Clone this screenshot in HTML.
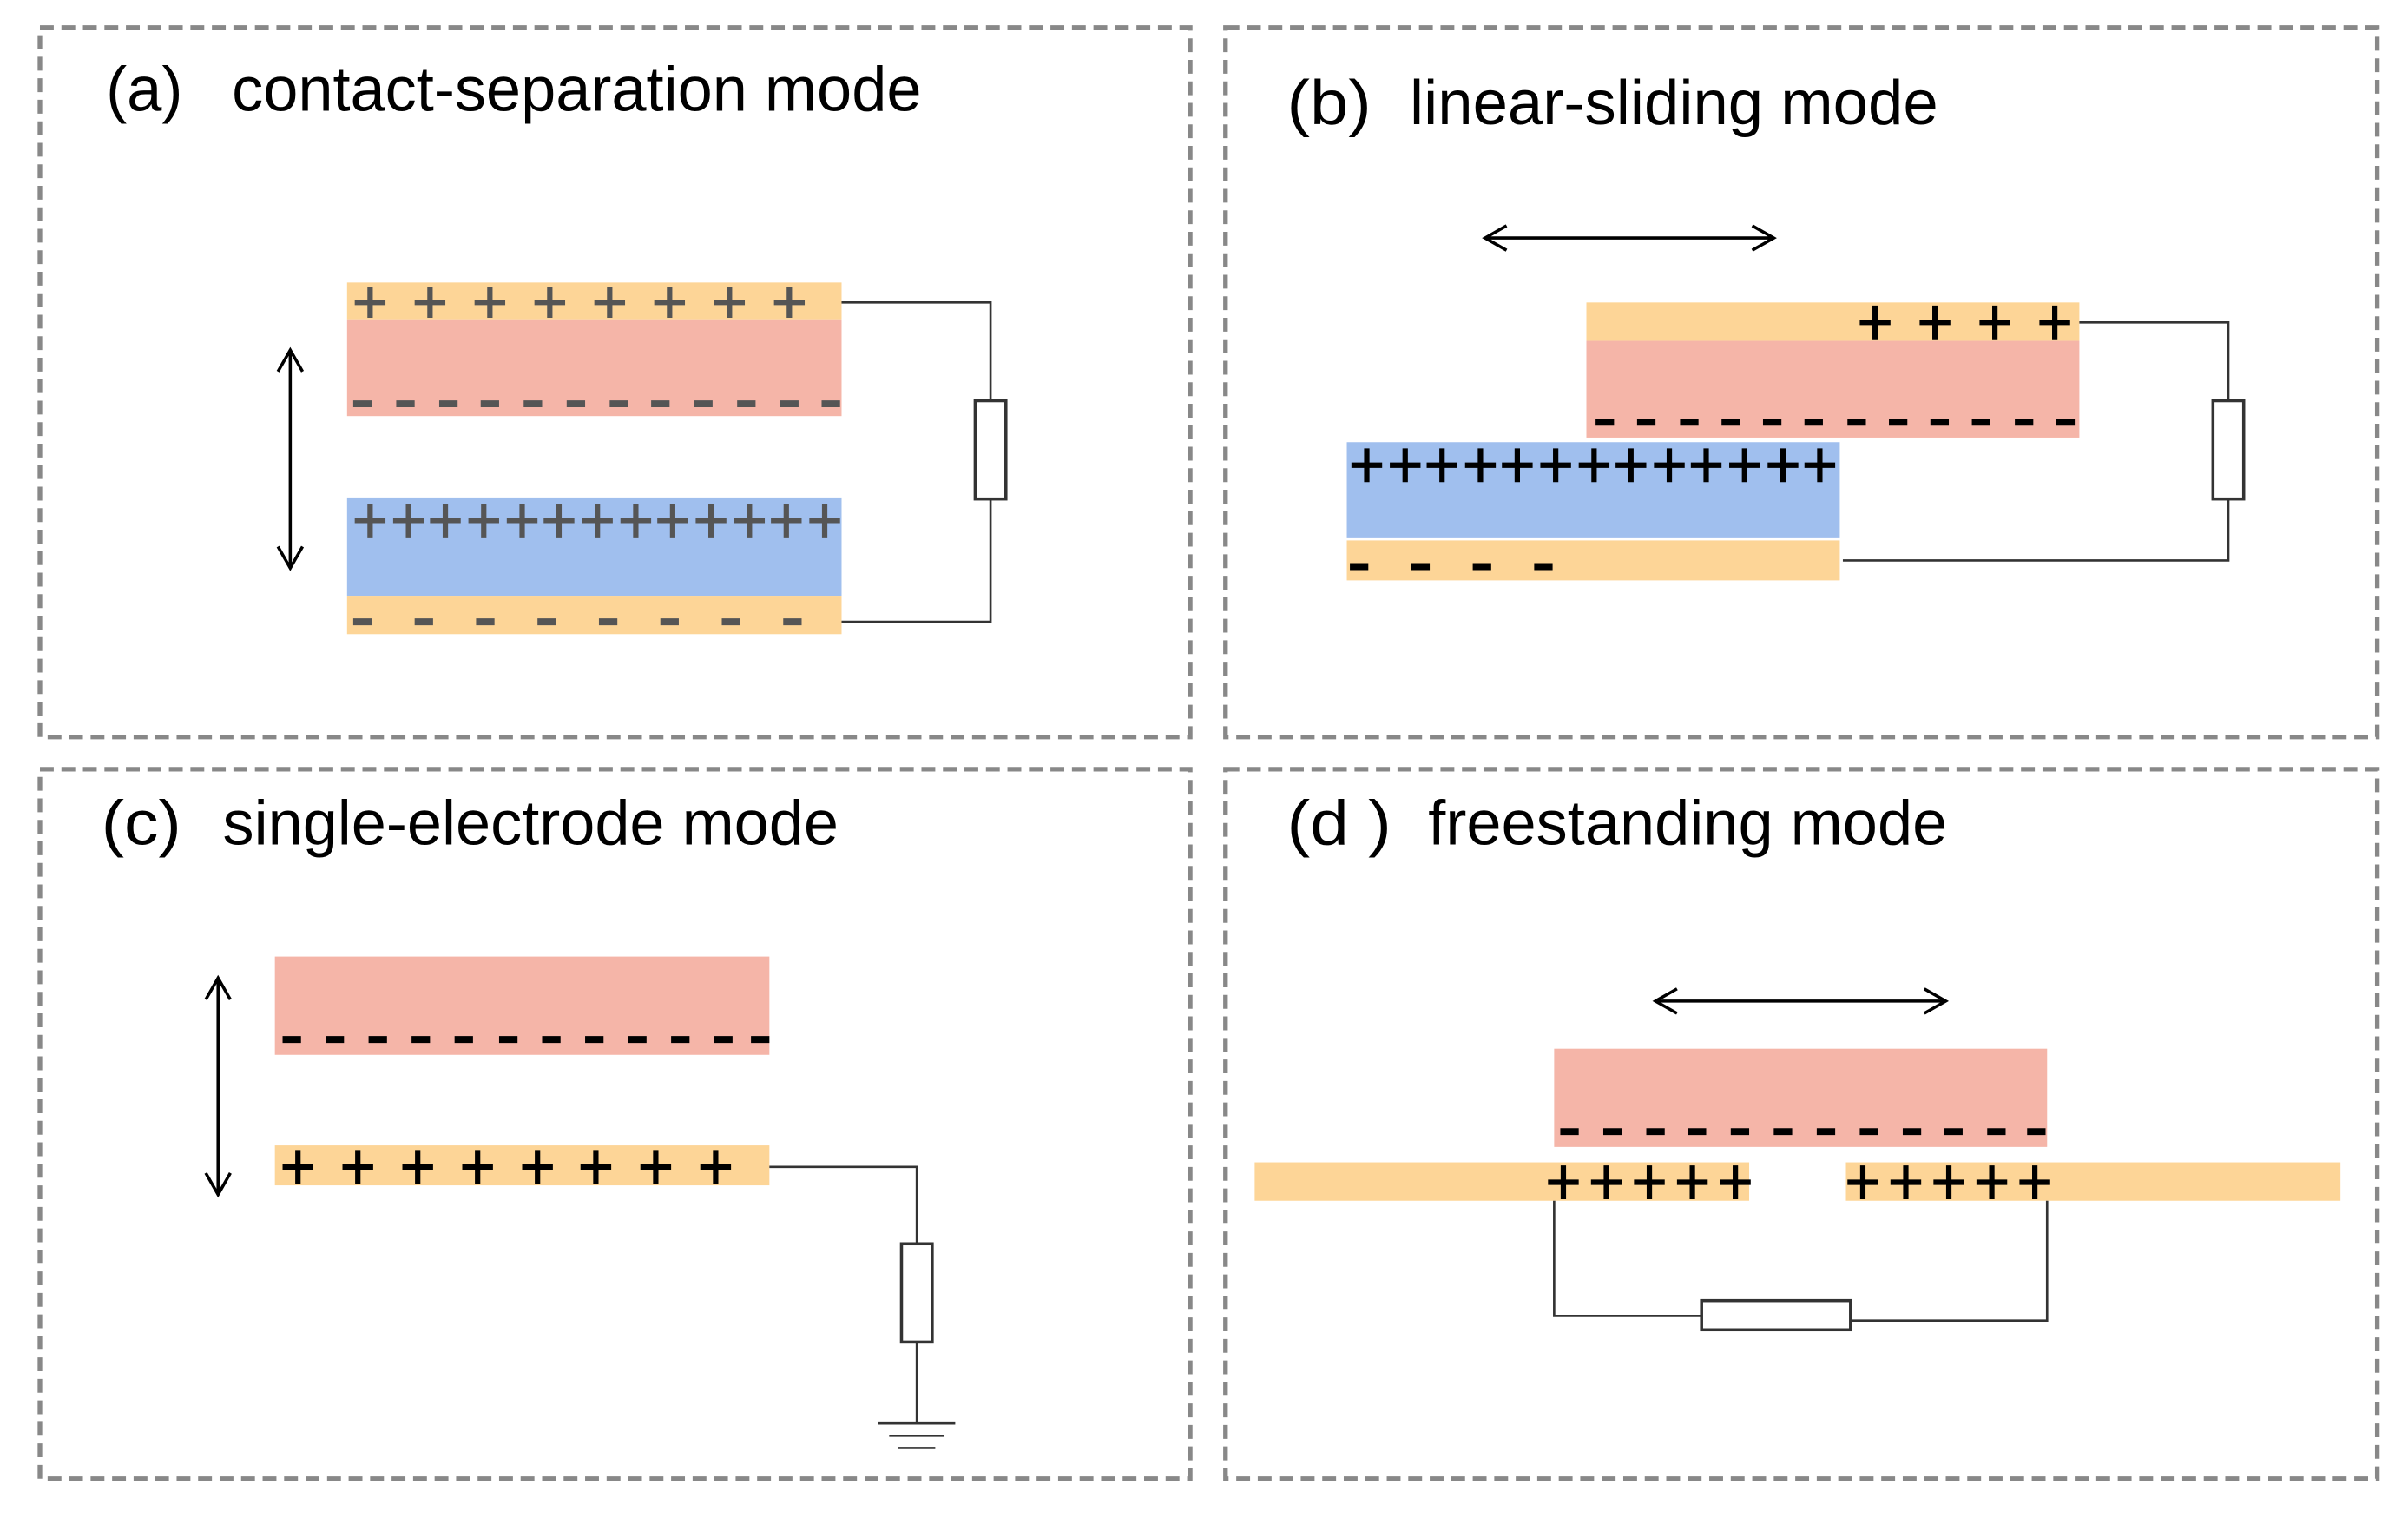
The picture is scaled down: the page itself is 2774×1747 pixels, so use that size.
<!DOCTYPE html>
<html><head><meta charset="utf-8"><style>
html,body{margin:0;padding:0;background:#fff;}
svg{display:block;}
</style></head><body>
<svg width="2774" height="1747" viewBox="0 0 1568 988" preserveAspectRatio="none" xmlns="http://www.w3.org/2000/svg">
<rect width="1568" height="988" fill="#fff"/>
<g fill="none" stroke="#888" stroke-width="3" stroke-dasharray="9,5">
<rect x="26" y="18" width="749" height="462"/>
<rect x="798" y="18" width="750" height="462"/>
<rect x="26" y="501" width="749" height="462"/>
<rect x="798" y="501" width="750" height="462"/>
</g>
<g font-family="Liberation Sans, Arial, sans-serif" font-size="41" fill="#000">
<text x="69" y="72" textLength="50" lengthAdjust="spacingAndGlyphs">(a)</text>
<text x="151" y="72" textLength="449" lengthAdjust="spacingAndGlyphs">contact-separation mode</text>
<text x="838" y="81" textLength="55" lengthAdjust="spacingAndGlyphs">(b)</text>
<text x="918" y="81" textLength="344" lengthAdjust="spacingAndGlyphs">linear-sliding mode</text>
<text x="66" y="550" textLength="52" lengthAdjust="spacingAndGlyphs">(c)</text>
<text x="145" y="550" textLength="401" lengthAdjust="spacingAndGlyphs">single-electrode mode</text>
<text x="838" y="550" textLength="68" lengthAdjust="spacingAndGlyphs">(d )</text>
<text x="930" y="550" textLength="338" lengthAdjust="spacingAndGlyphs">freestanding mode</text>
</g>
<!-- Panel a -->
<rect x="226" y="184" width="322" height="24" fill="#fdd597"/>
<rect x="226" y="208" width="322" height="63" fill="#f5b5a8"/>
<rect x="226" y="324" width="322" height="64" fill="#a0bfee"/>
<rect x="226" y="388" width="322" height="25" fill="#fdd597"/>
<g stroke="#555" stroke-width="3.5" fill="none">
<path d="M231 197h20M241 187v20 M270 197h20M280 187v20 M309 197h20M319 187v20 M348 197h20M358 187v20 M387 197h20M397 187v20 M426 197h20M436 187v20 M465 197h20M475 187v20 M504 197h20M514 187v20"/>
<path d="M231 339h20M241 328v22 M256 339h20M266 328v22 M280 339h20M290 328v22 M305 339h20M315 328v22 M330 339h20M340 328v22 M354 339h20M364 328v22 M379 339h20M389 328v22 M404 339h20M414 328v22 M428 339h20M438 328v22 M453 339h20M463 328v22 M478 339h20M488 328v22 M502 339h20M512 328v22 M527 339h20M537 328v22"/>
<path stroke-width="4.5" d="M230 263h12M258 263h12M286 263h12M313 263h12M341 263h12M369 263h12M397 263h12M424 263h12M452 263h12M480 263h12M508 263h12M535 263h12"/>
<path stroke-width="4.5" d="M230 405h12M270 405h12M310 405h12M350 405h12M390 405h12M430 405h12M470 405h12M510 405h12"/>
</g>
<g stroke="#333" stroke-width="1.5" fill="none">
<path d="M548 197H645V261M645 325V405H548"/>
<rect x="635" y="261" width="20" height="64" fill="#fff" stroke-width="2"/>
</g>
<g stroke="#000" stroke-width="2" fill="none">
<path d="M189 228V370M181 242L189 228L197 242M181 356L189 370L197 356"/>
</g>
<!-- Panel b -->
<rect x="1033" y="197" width="321" height="25" fill="#fdd597"/>
<rect x="1033" y="222" width="321" height="63" fill="#f5b5a8"/>
<rect x="877" y="288" width="321" height="62" fill="#a0bfee"/>
<rect x="877" y="352" width="321" height="26" fill="#fdd597"/>
<g stroke="#000" stroke-width="3.5" fill="none">
<path d="M1211 210h20M1221 199v22 M1250 210h20M1260 199v22 M1289 210h20M1299 199v22 M1328 210h20M1338 199v22"/>
<path d="M880 303h20M890 292v22 M905 303h20M915 292v22 M929 303h20M939 292v22 M954 303h20M964 292v22 M978 303h20M988 292v22 M1003 303h20M1013 292v22 M1028 303h20M1038 292v22 M1052 303h20M1062 292v22 M1077 303h20M1087 292v22 M1101 303h20M1111 292v22 M1126 303h20M1136 292v22 M1151 303h20M1161 292v22 M1175 303h20M1185 292v22"/>
<path stroke-width="4.5" d="M1039 275h12M1066 275h12M1094 275h12M1121 275h12M1148 275h12M1175 275h12M1203 275h12M1230 275h12M1257 275h12M1284 275h12M1312 275h12M1339 275h12"/>
<path stroke-width="4.5" d="M879 369h12M919 369h12M959 369h12M999 369h12"/>
</g>
<g stroke="#333" stroke-width="1.5" fill="none">
<path d="M1354 210H1451V261M1451 325V365H1200"/>
<rect x="1441" y="261" width="20" height="64" fill="#fff" stroke-width="2"/>
</g>
<g stroke="#000" stroke-width="2" fill="none">
<path d="M967 155H1155M981 147L967 155L981 163M1141 147L1155 155L1141 163"/>
</g>
<!-- Panel c -->
<rect x="179" y="623" width="322" height="64" fill="#f5b5a8"/>
<rect x="179" y="746" width="322" height="26" fill="#fdd597"/>
<g stroke="#000" stroke-width="3.5" fill="none">
<path stroke-width="4.5" d="M184 677h12M212 677h12M240 677h12M268 677h12M296 677h12M325 677h12M353 677h12M381 677h12M409 677h12M437 677h12M465 677h12M489 677h12"/>
<path d="M184 760h20M194 749v22 M223 760h20M233 749v22 M262 760h20M272 749v22 M301 760h20M311 749v22 M340 760h20M350 749v22 M378 760h20M388 749v22 M417 760h20M427 749v22 M456 760h20M466 749v22"/>
</g>
<g stroke="#333" stroke-width="1.5" fill="none">
<path d="M501 760H597V810M597 874V927"/>
<rect x="587" y="810" width="20" height="64" fill="#fff" stroke-width="2"/>
<path d="M572 927h50M579 935h36M585 943h24"/>
</g>
<g stroke="#000" stroke-width="2" fill="none">
<path d="M142 637V778M134 651L142 637L150 651M134 764L142 778L150 764"/>
</g>
<!-- Panel d -->
<rect x="1012" y="683" width="321" height="64" fill="#f5b5a8"/>
<rect x="817" y="757" width="322" height="25" fill="#fdd597"/>
<rect x="1202" y="757" width="322" height="25" fill="#fdd597"/>
<g stroke="#000" stroke-width="3.5" fill="none">
<path stroke-width="4.5" d="M1016 737h12M1044 737h12M1072 737h12M1099 737h12M1127 737h12M1155 737h12M1183 737h12M1211 737h12M1239 737h12M1266 737h12M1294 737h12M1320 737h12"/>
<path d="M1008 770h20M1018 759v22 M1036 770h20M1046 759v22 M1064 770h20M1074 759v22 M1092 770h20M1102 759v22 M1120 770h20M1130 759v22"/>
<path d="M1203 770h20M1213 759v22 M1231 770h20M1241 759v22 M1259 770h20M1269 759v22 M1287 770h20M1297 759v22 M1315 770h20M1325 759v22"/>
</g>
<g stroke="#333" stroke-width="1.5" fill="none">
<path d="M1012 782V857H1108M1205 860H1333V782"/>
<rect x="1108" y="847" width="97" height="19" fill="#fff" stroke-width="2"/>
</g>
<g stroke="#000" stroke-width="2" fill="none">
<path d="M1078 652H1267M1092 644L1078 652L1092 660M1253 644L1267 652L1253 660"/>
</g>
</svg>
</body></html>
